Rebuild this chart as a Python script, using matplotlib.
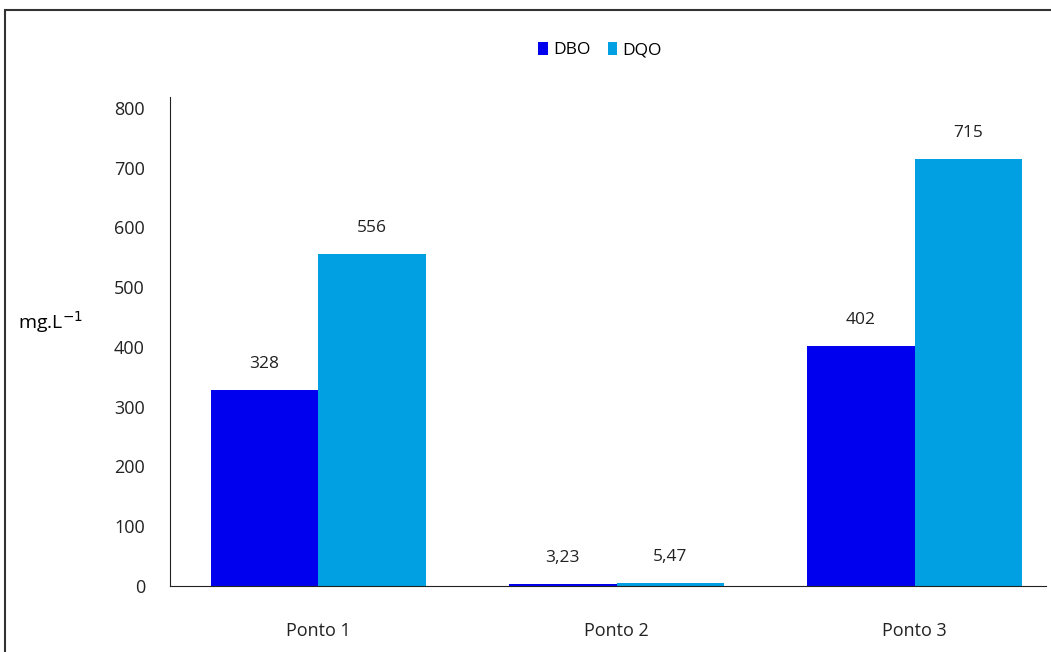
import numpy as np
import matplotlib.pyplot as plt
from matplotlib.patches import Rectangle

pontos = ['Ponto 1', 'Ponto 2', 'Ponto 3']
dbo = [328, 3.23, 402]
dqo = [556, 5.47, 715]
dbo_labels = ['328', '3,23', '402']
dqo_labels = ['556', '5,47', '715']

plt.rcParams['font.family'] = ['Open Sans', 'DejaVu Sans']

fig = plt.figure(figsize=(10.51, 6.52), dpi=100)
fig.patches.append(Rectangle((5 / 1051, -0.1), 1.2, 1 - 10 / 652 + 0.1,
                             transform=fig.transFigure, fill=False,
                             edgecolor='#333333', linewidth=1.5))

ax = fig.add_axes([170 / 1051, 66 / 652, 876 / 1051, 489 / 652])
x = np.arange(len(pontos))
w = 0.36
b1 = ax.bar(x - w / 2, dbo, w, color='#0000EE', label='DBO')
b2 = ax.bar(x + w / 2, dqo, w, color='#00A0E3', label='DQO')

for bars, labels in [(b1, dbo_labels), (b2, dqo_labels)]:
    for bar, lab in zip(bars, labels):
        ax.annotate(lab, (bar.get_x() + bar.get_width() / 2, bar.get_height()),
                    xytext=(0, 13), textcoords='offset points',
                    ha='center', va='bottom', fontsize=12.5, color='#222222')

ax.set_xlim(-0.497, 2.44)
ax.set_ylim(0, 818)
ax.set_yticks(range(0, 801, 100))
ax.set_xticks(x)
ax.set_xticklabels(pontos)
ax.tick_params(axis='both', length=0, labelsize=13, colors='#222222')
ax.tick_params(axis='x', pad=26)
ax.tick_params(axis='y', pad=18)
ax.spines['top'].set_visible(False)
ax.spines['right'].set_visible(False)
ax.spines['left'].set_color('#222222')
ax.spines['bottom'].set_color('#222222')

fig.text(18 / 1051, 1 - 322 / 652, 'mg.L$^{-1}$', fontsize=14, va='center', ha='left')

fig.legend(loc='center', bbox_to_anchor=(600 / 1051, 1 - 50 / 652), ncol=2,
           frameon=False, fontsize=12.5, handlelength=0.55, handleheight=0.75,
           handletextpad=0.3, columnspacing=1.0)

fig.savefig('out.png', dpi=100)
